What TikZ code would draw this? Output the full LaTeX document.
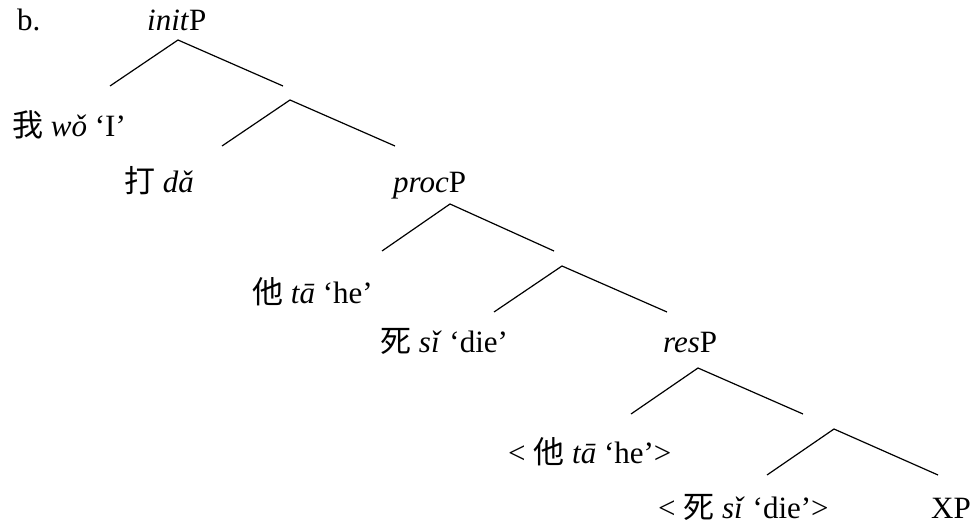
\documentclass[tikz,border=0pt]{standalone}
\usepackage{fontspec}
\setmainfont{Liberation Serif}
\newfontfamily\cjk{Noto Sans CJK SC}
\begin{document}
\begin{tikzpicture}[x=1pt,y=-1pt,
  lbl/.style={anchor=base west,inner sep=0pt,font=\fontsize{31}{36}\selectfont},
  branch/.style={line width=1.2pt,black}]
\useasboundingbox (0,0) rectangle (972,524);
% labels
\node[lbl] (b) at (17,31) {b.};
\node[lbl] (init) at (147,31) {\textit{init}P};
\node[lbl] (wo) at (12,137) {{\cjk 我} \textit{wǒ} ‘I’};
\node[lbl] (da) at (124,193) {{\cjk 打} \textit{dǎ}};
\node[lbl] (proc) at (393,192) {\textit{proc}P};
\node[lbl] (ta) at (252,303) {{\cjk 他} \textit{tā} ‘he’};
\node[lbl] (si) at (380,352) {{\cjk 死} \textit{sǐ} ‘die’};
\node[lbl] (res) at (663,352) {\textit{res}P};
\node[lbl] (ta2) at (508,463) {< {\cjk 他} \textit{tā} ‘he’>};
\node[lbl] (si2) at (658,518) {< {\cjk 死} \textit{sǐ} ‘die’>};
\node[lbl,anchor=base east] (xp) at (971,518) {XP};
% branch points
\coordinate (a1) at (178,40);  \coordinate (a1l) at (110,86);  \coordinate (a1r) at (283,86);
\coordinate (a2) at (290,100); \coordinate (a2l) at (222,146); \coordinate (a2r) at (395,146);
\coordinate (a3) at (450,204); \coordinate (a3l) at (382,251); \coordinate (a3r) at (554,251);
\coordinate (a4) at (562,266); \coordinate (a4l) at (494,312); \coordinate (a4r) at (667,312);
\coordinate (a5) at (698,368); \coordinate (a5l) at (631,414); \coordinate (a5r) at (803,414);
\coordinate (a6) at (834,429); \coordinate (a6l) at (767,475); \coordinate (a6r) at (938,475);
\foreach \n in {a1,a2,a3,a4,a5,a6}{
  \draw[branch] (\n l) -- (\n) -- (\n r);
}
\end{tikzpicture}
\end{document}
